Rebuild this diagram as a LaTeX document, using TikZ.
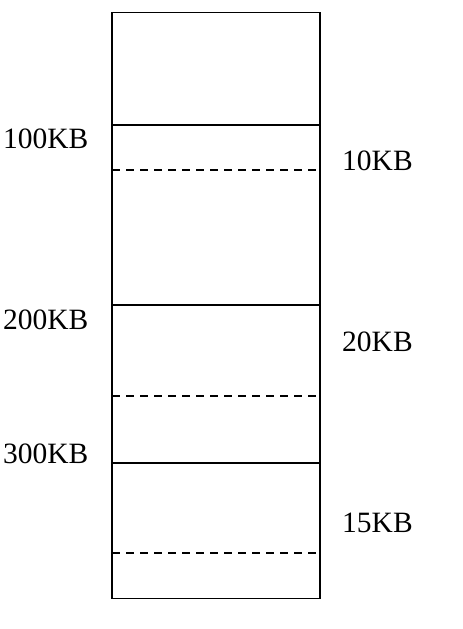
\documentclass[tikz,border=0pt]{standalone}
\usepackage{fontspec}
\setmainfont{Liberation Serif}
\usetikzlibrary{positioning}

\tikzset{
  partline/.style={line width=1.9pt},
  freeline/.style={line width=1.9pt, dash pattern=on 8pt off 6pt},
  sizelabel/.style={anchor=base west, inner sep=0pt, font=\fontsize{29.5}{32}\selectfont}
}

\begin{document}
\begin{tikzpicture}[x=1pt,y=-1pt]
    \useasboundingbox (0,0) rectangle (463,629);

    % Memory block
    \draw[partline] (112,12.5) rectangle (320,598.5);

    % Partition boundaries
    \foreach \y in {125, 305, 463} {
        \draw[partline] (112,\y) -- (320,\y);
    }

    % Free space inside partitions
    \foreach \y in {170, 396, 553} {
        \draw[freeline] (112,\y) -- (320,\y);
    }

    % Start addresses
    \node[sizelabel] (addrA) at (3,148) {100KB};
    \node[sizelabel] (addrB) at (3,329) {200KB};
    \node[sizelabel] (addrC) at (3,463) {300KB};

    % Free sizes
    \node[sizelabel] (freeA) at (342,170) {10KB};
    \node[sizelabel] (freeB) at (342,351) {20KB};
    \node[sizelabel] (freeC) at (342,532) {15KB};
\end{tikzpicture}
\end{document}
